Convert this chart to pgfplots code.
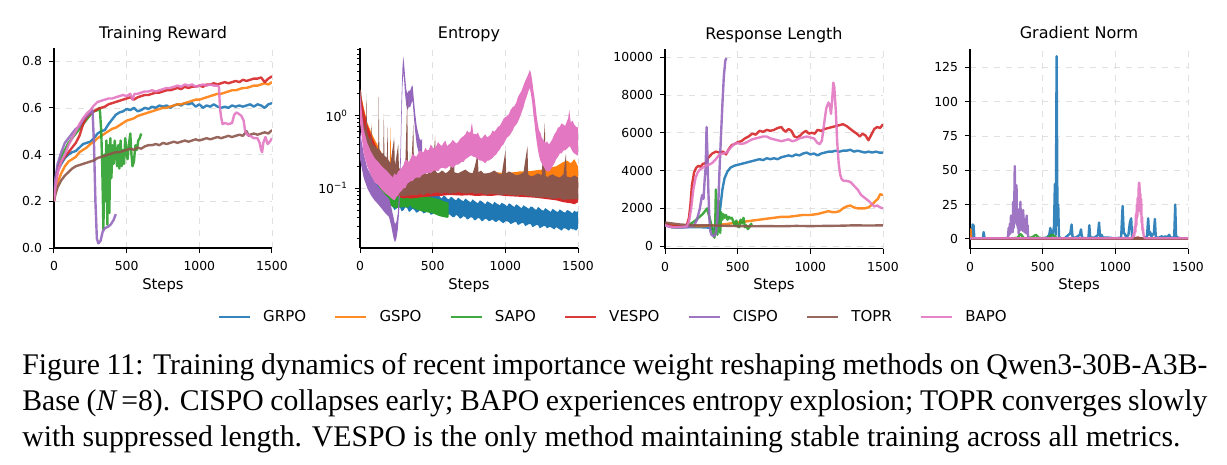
\documentclass[border=0pt]{standalone}
\usepackage{pgfplots}
\pgfplotsset{compat=1.18}
\usepgfplotslibrary{fillbetween}
\usepackage{pgfplotstable}
\usepackage{fontspec}
\setmainfont{DejaVu Sans}
\newfontfamily\capfont[FakeStretch=0.99]{Liberation Serif}

\definecolor{cGRPO}{HTML}{1F77B4}
\definecolor{cGSPO}{HTML}{FF7F0E}
\definecolor{cSAPO}{HTML}{2CA02C}
\definecolor{cVESPO}{HTML}{D62728}
\definecolor{cCISPO}{HTML}{9467BD}
\definecolor{cTOPR}{HTML}{8C564B}
\definecolor{cBAPO}{HTML}{E377C2}

% entropy: upper and lower edge of each (noisy) curve
\pgfplotstableread{
step hi lo
0 2.0 1.1
25 0.8 0.4
50 0.4 0.22
75 0.27 0.15
100 0.19 0.105
125 0.15 0.085
150 0.12 0.07
175 0.105 0.062
200 0.095 0.057
212 0.083 0.058
225 0.092 0.055
237 0.094 0.050
250 0.085 0.052
262 0.080 0.056
275 0.095 0.054
287 0.090 0.048
300 0.088 0.050
312 0.082 0.055
325 0.084 0.053
337 0.079 0.047
350 0.090 0.049
362 0.088 0.052
375 0.083 0.050
387 0.080 0.046
400 0.087 0.047
412 0.085 0.050
425 0.080 0.048
437 0.077 0.045
450 0.084 0.046
462 0.081 0.049
475 0.078 0.047
487 0.086 0.043
500 0.082 0.044
512 0.077 0.047
525 0.090 0.045
537 0.083 0.042
550 0.076 0.043
562 0.072 0.046
575 0.079 0.044
587 0.077 0.041
600 0.072 0.041
612 0.070 0.044
625 0.076 0.042
637 0.074 0.040
650 0.070 0.040
662 0.068 0.043
675 0.074 0.041
687 0.071 0.038
700 0.068 0.039
712 0.066 0.041
725 0.072 0.040
737 0.069 0.037
750 0.066 0.038
762 0.064 0.040
775 0.070 0.039
787 0.067 0.036
800 0.064 0.037
812 0.062 0.039
825 0.068 0.038
837 0.066 0.035
850 0.063 0.036
862 0.060 0.038
875 0.066 0.037
887 0.064 0.035
900 0.062 0.036
912 0.059 0.037
925 0.065 0.035
937 0.062 0.034
950 0.060 0.036
962 0.058 0.036
975 0.063 0.034
987 0.061 0.033
1000 0.059 0.035
1012 0.056 0.035
1025 0.062 0.034
1037 0.060 0.032
1050 0.057 0.033
1062 0.055 0.034
1075 0.060 0.034
1087 0.058 0.031
1100 0.055 0.032
1112 0.053 0.033
1125 0.058 0.033
1137 0.056 0.030
1150 0.054 0.031
1162 0.052 0.032
1175 0.056 0.032
1187 0.055 0.029
1200 0.052 0.030
1212 0.050 0.031
1225 0.055 0.031
1237 0.053 0.028
1250 0.050 0.029
1262 0.049 0.030
1275 0.053 0.030
1287 0.051 0.028
1300 0.049 0.029
1312 0.047 0.029
1325 0.052 0.028
1337 0.050 0.027
1350 0.048 0.029
1362 0.047 0.028
1375 0.051 0.027
1387 0.049 0.026
1400 0.047 0.028
1412 0.046 0.028
1425 0.050 0.027
1437 0.049 0.026
1450 0.047 0.028
1462 0.045 0.027
1475 0.049 0.027
1487 0.047 0.026
1500 0.048 0.028
}\entGRPO

\pgfplotstableread{
step hi lo
0 2.3 1.6
25 1.3 0.75
50 0.8 0.45
75 0.6 0.33
100 0.47 0.26
125 0.38 0.21
150 0.3 0.17
175 0.25 0.14
200 0.2 0.115
205 0.2 0.11
210 0.69 0.11
215 0.19 0.105
225 0.17 0.1
250 0.16 0.09
275 0.15 0.085
300 0.14 0.08
325 0.135 0.078
350 0.14 0.075
375 0.135 0.077
400 0.14 0.075
425 0.135 0.078
450 0.14 0.076
475 0.14 0.078
500 0.145 0.08
550 0.15 0.08
600 0.15 0.082
650 0.155 0.08
700 0.15 0.083
750 0.155 0.082
800 0.16 0.085
850 0.155 0.083
900 0.16 0.085
950 0.165 0.084
1000 0.16 0.086
1050 0.165 0.085
1100 0.17 0.088
1150 0.17 0.087
1200 0.175 0.09
1250 0.18 0.09
1300 0.19 0.095
1350 0.2 0.1
1400 0.23 0.105
1425 0.24 0.11
1450 0.22 0.11
1475 0.25 0.105
1500 0.2 0.1
}\entGSPO

\pgfplotstableread{
step hi lo
0 2.0 1.2
25 0.8 0.45
50 0.45 0.27
75 0.32 0.19
100 0.24 0.14
125 0.18 0.11
150 0.14 0.085
175 0.11 0.07
200 0.09 0.06
225 0.085 0.055
250 0.084 0.053
275 0.088 0.054
300 0.09 0.055
325 0.088 0.054
338 0.09 0.055
344 0.31 0.06
350 0.09 0.055
375 0.085 0.052
400 0.082 0.05
425 0.08 0.048
450 0.078 0.047
475 0.076 0.046
500 0.074 0.045
525 0.072 0.043
550 0.07 0.041
575 0.066 0.04
600 0.064 0.039
610 0.063 0.04
}\entSAPO

\pgfplotstableread{
step hi lo
0 2.3 1.5
25 1.2 0.7
50 0.75 0.42
75 0.55 0.3
100 0.42 0.23
125 0.33 0.18
150 0.26 0.14
175 0.21 0.115
200 0.17 0.095
225 0.15 0.085
250 0.135 0.08
275 0.13 0.075
300 0.125 0.072
325 0.125 0.074
350 0.12 0.072
375 0.12 0.073
400 0.125 0.074
450 0.13 0.076
500 0.135 0.077
550 0.14 0.078
600 0.14 0.08
650 0.145 0.08
700 0.14 0.079
750 0.145 0.08
800 0.14 0.078
850 0.145 0.079
900 0.14 0.078
950 0.145 0.08
1000 0.14 0.078
1050 0.14 0.077
1100 0.135 0.076
1150 0.14 0.075
1200 0.135 0.074
1250 0.13 0.072
1300 0.13 0.07
1350 0.125 0.068
1400 0.12 0.064
1450 0.12 0.062
1475 0.115 0.06
1500 0.12 0.064
}\entVESPO

\pgfplotstableread{
step hi lo
0 0.6 0.25
25 0.3 0.14
50 0.19 0.1
75 0.15 0.08
100 0.12 0.068
125 0.105 0.06
150 0.092 0.052
175 0.08 0.045
200 0.072 0.04
215 0.055 0.03
230 0.04 0.021
240 0.032 0.018
250 0.034 0.02
260 0.045 0.027
270 0.1 0.05
278 0.3 0.12
285 1.5 0.7
292 4.5 2.5
298 6.5 4.0
304 5.0 3.0
310 3.5 2.0
318 2.3 1.4
326 2.0 1.2
335 2.2 1.3
345 2.2 1.3
355 2.5 1.5
362 2.6 1.6
370 1.7 1.0
380 1.05 0.6
390 0.72 0.4
400 0.58 0.33
410 0.48 0.28
420 0.45 0.26
428 0.48 0.3
}\entCISPO

\pgfplotstableread{
step hi lo
0 2.2 1.2
9 2.1 0.9
12 1.2 0.7
25 0.8 0.35
40 0.6 0.28
44 2.0 0.28
48 0.6 0.27
60 0.5 0.24
75 0.45 0.2
78 0.8 0.2
82 0.42 0.2
100 0.38 0.17
115 0.36 0.16
125 0.34 0.15
129 1.8 0.15
133 0.34 0.15
150 0.3 0.13
160 0.3 0.12
164 1.05 0.12
168 0.28 0.115
185 0.26 0.1
189 0.7 0.1
193 0.25 0.1
210 0.22 0.09
235 0.5 0.085
240 0.2 0.083
263 0.4 0.08
268 0.19 0.08
290 0.17 0.078
310 0.16 0.077
325 1.7 0.08
330 0.16 0.078
350 0.15 0.08
367 0.77 0.08
372 0.15 0.08
400 0.15 0.08
412 0.14 0.085
425 0.16 0.082
437 0.17 0.079
450 0.16 0.083
462 0.155 0.086
475 0.165 0.085
487 0.175 0.082
500 0.17 0.085
517 0.53 0.087
522 0.17 0.086
535 0.16 0.088
550 0.165 0.085
562 0.175 0.083
575 0.17 0.086
587 0.16 0.087
600 0.165 0.085
620 0.18 0.084
644 0.41 0.086
650 0.165 0.085
675 0.16 0.088
700 0.17 0.086
725 0.18 0.084
750 0.165 0.085
775 0.16 0.087
790 0.2 0.083
810 0.3 0.085
815 0.165 0.084
832 0.175 0.085
850 0.16 0.083
875 0.16 0.081
900 0.165 0.084
925 0.175 0.083
950 0.16 0.082
975 0.155 0.08
1001 0.33 0.082
1006 0.16 0.082
1025 0.17 0.081
1050 0.16 0.08
1075 0.15 0.079
1100 0.155 0.08
1125 0.165 0.08
1152 0.38 0.078
1157 0.155 0.078
1175 0.145 0.077
1200 0.15 0.076
1225 0.16 0.074
1250 0.15 0.075
1272 0.8 0.074
1277 0.15 0.074
1290 0.14 0.075
1300 0.148 0.073
1325 0.155 0.071
1350 0.145 0.072
1375 0.14 0.073
1400 0.155 0.069
1417 0.3 0.07
1422 0.145 0.07
1450 0.14 0.07
1475 0.15 0.071
1500 0.14 0.07
}\entTOPR

\pgfplotstableread{
step hi lo
0 2.2 0.8
15 1.0 0.45
25 0.65 0.3
50 0.42 0.2
75 0.32 0.15
100 0.26 0.12
125 0.23 0.11
150 0.2 0.095
175 0.18 0.085
200 0.16 0.078
225 0.14 0.07
237 0.16 0.068
250 0.15 0.075
262 0.17 0.08
275 0.18 0.088
287 0.19 0.092
300 0.21 0.1
312 0.25 0.1
325 0.24 0.115
337 0.23 0.12
350 0.26 0.125
362 0.3 0.125
375 0.28 0.135
387 0.27 0.14
400 0.3 0.14
412 0.33 0.14
425 0.32 0.15
437 0.31 0.155
450 0.36 0.16
462 0.33 0.16
475 0.34 0.165
487 0.40 0.16
500 0.36 0.17
512 0.35 0.175
525 0.38 0.175
537 0.43 0.17
550 0.4 0.185
562 0.38 0.19
575 0.42 0.19
587 0.45 0.185
600 0.38 0.19
612 0.40 0.2
625 0.42 0.2
637 0.46 0.19
650 0.44 0.2
662 0.41 0.21
675 0.43 0.21
687 0.47 0.22
700 0.5 0.23
712 0.52 0.23
725 0.55 0.25
737 0.62 0.26
750 0.58 0.27
760 0.6 0.28
770 0.8 0.28
780 0.55 0.27
790 0.56 0.27
800 0.55 0.26
812 0.58 0.25
825 0.5 0.24
837 0.48 0.24
850 0.52 0.23
862 0.55 0.22
875 0.5 0.24
887 0.52 0.24
900 0.55 0.25
912 0.62 0.26
925 0.6 0.28
937 0.64 0.29
950 0.7 0.32
962 0.72 0.34
975 0.8 0.38
987 0.9 0.4
1000 0.95 0.45
1012 0.98 0.5
1025 1.05 0.52
1037 1.2 0.56
1050 1.3 0.62
1062 1.35 0.7
1075 1.5 0.75
1087 1.8 0.82
1100 2.0 0.95
1112 2.2 1.1
1125 2.6 1.3
1137 3.0 1.6
1150 3.4 1.9
1160 3.8 2.2
1168 4.2 2.4
1176 3.9 2.0
1185 3.0 1.5
1192 2.3 1.1
1200 1.8 0.8
1207 1.4 0.6
1215 1.0 0.45
1224 0.75 0.34
1232 0.62 0.28
1241 0.58 0.24
1250 0.5 0.22
1262 0.46 0.2
1275 0.42 0.18
1287 0.44 0.17
1300 0.4 0.17
1312 0.43 0.18
1325 0.48 0.2
1337 0.55 0.22
1350 0.6 0.25
1362 0.68 0.27
1375 0.7 0.3
1387 0.78 0.3
1400 0.75 0.33
1412 0.72 0.33
1425 0.85 0.35
1432 0.9 0.36
1440 1.2 0.38
1450 0.8 0.36
1462 0.85 0.32
1475 0.75 0.3
1487 0.7 0.29
1500 0.68 0.28
}\entBAPO

\pgfplotsset{
  panel/.style={
    width=109pt, height=100pt, scale only axis,
    axis x line*=bottom, axis y line*=left,
    axis line style={line width=0.6pt, -},
    xmin=0, xmax=1500, xtick={0,500,1000,1500},
    tick align=outside, major tick length=2.5pt, minor tick length=1.4pt,
    every tick/.style={black, line width=0.5pt},
    grid=major, major grid style={dashed, line width=0.3pt, black!12},
    ticklabel style={font=\fontsize{6.2}{7}\selectfont},
    /pgf/number format/assume math mode=true,
    /pgf/number format/1000 sep={},
    every axis title shift=0pt,
    title style={font=\fontsize{8}{9}\selectfont, at={(0.5,1)}, anchor=base, yshift=4.8pt},
    xlabel=Steps,
    xlabel style={font=\fontsize{7.4}{8}\selectfont, at={(0.5,0)}, anchor=base, yshift=-20.5pt},
    xticklabel style={yshift=-0.6pt},
    every axis plot/.append style={line width=1.2pt, opacity=0.9, line join=round},
    clip=true,
  },
  band/.style={draw=none, fill=#1, fill opacity=0.85, opacity=1},
}

\begin{document}
\begin{tikzpicture}

% ---------------- Training Reward ----------------
\begin{axis}[panel, at={(27pt,-124pt)}, anchor=south west,
  title={Training Reward},
  ymin=0, ymax=0.856, ytick={0,0.2,0.4,0.6,0.8},
  yticklabel style={/pgf/number format/.cd, fixed, fixed zerofill, precision=1},
  legend columns=7,
  legend style={at={(2.57,-0.345)}, anchor=center, draw=none, fill=none,
    font=\fontsize{7.5}{9}\selectfont,
    /tikz/every odd column/.append style={column sep=4pt},
    /tikz/every even column/.append style={column sep=12pt}},
  legend image code/.code={\draw[#1] (0pt,0pt) -- (15.5pt,0pt);},
]
\addplot[cGRPO] coordinates {(0,0.22)(10,0.28)(25,0.33)(50,0.36)(75,0.385)(100,0.40)(125,0.41)(150,0.415)(175,0.43)(200,0.445)(225,0.45)(250,0.455)(275,0.47)(300,0.49)(325,0.50)(350,0.505)(375,0.53)(400,0.55)(425,0.57)(450,0.58)(475,0.585)(500,0.595)(525,0.59)(550,0.60)(575,0.585)(600,0.59)(625,0.60)(650,0.595)(675,0.605)(700,0.60)(725,0.61)(750,0.605)(775,0.61)(800,0.60)(825,0.61)(850,0.615)(875,0.61)(900,0.62)(925,0.615)(950,0.62)(975,0.605)(1000,0.615)(1025,0.60)(1050,0.61)(1075,0.605)(1100,0.615)(1125,0.605)(1150,0.60)(1175,0.605)(1200,0.60)(1225,0.61)(1250,0.605)(1275,0.61)(1300,0.605)(1325,0.61)(1350,0.615)(1375,0.605)(1400,0.615)(1425,0.61)(1450,0.60)(1475,0.615)(1500,0.62)};
\addplot[cGSPO] coordinates {(0,0.20)(10,0.24)(25,0.28)(50,0.32)(75,0.35)(100,0.37)(125,0.38)(150,0.39)(175,0.41)(200,0.42)(225,0.43)(250,0.445)(275,0.455)(300,0.47)(325,0.48)(350,0.49)(375,0.50)(400,0.51)(425,0.515)(450,0.525)(475,0.535)(500,0.545)(525,0.55)(550,0.555)(575,0.565)(600,0.57)(625,0.575)(650,0.58)(675,0.585)(700,0.59)(725,0.595)(750,0.60)(775,0.60)(800,0.605)(825,0.61)(850,0.615)(875,0.615)(900,0.62)(925,0.625)(950,0.63)(975,0.635)(1000,0.635)(1025,0.64)(1050,0.645)(1075,0.65)(1100,0.655)(1125,0.66)(1150,0.66)(1175,0.665)(1200,0.67)(1225,0.675)(1250,0.675)(1275,0.68)(1300,0.685)(1325,0.685)(1350,0.69)(1375,0.695)(1400,0.695)(1425,0.70)(1450,0.705)(1475,0.70)(1500,0.71)};
\addplot[cSAPO] coordinates {(0,0.21)(10,0.28)(25,0.34)(50,0.39)(75,0.42)(100,0.45)(125,0.47)(150,0.49)(175,0.51)(200,0.53)(225,0.55)(250,0.57)(275,0.585)(300,0.59)(315,0.60)(325,0.50)(332,0.35)(340,0.08)(347,0.40)(353,0.20)(360,0.46)(367,0.10)(374,0.44)(381,0.15)(388,0.47)(395,0.30)(402,0.44)(410,0.36)(418,0.46)(426,0.40)(434,0.35)(442,0.44)(450,0.34)(458,0.46)(466,0.35)(474,0.42)(482,0.36)(490,0.47)(498,0.42)(506,0.38)(515,0.44)(525,0.49)(533,0.40)(540,0.35)(550,0.37)(560,0.44)(570,0.42)(580,0.46)(590,0.47)(600,0.49)};
\addplot[cVESPO] coordinates {(0,0.21)(10,0.27)(25,0.33)(50,0.37)(75,0.39)(100,0.41)(125,0.43)(150,0.45)(175,0.48)(200,0.53)(225,0.56)(250,0.575)(275,0.585)(300,0.595)(325,0.60)(350,0.605)(375,0.615)(400,0.62)(425,0.625)(450,0.63)(475,0.635)(500,0.64)(525,0.645)(550,0.635)(575,0.645)(600,0.65)(625,0.655)(650,0.655)(675,0.66)(700,0.665)(725,0.665)(750,0.67)(775,0.675)(800,0.675)(825,0.68)(850,0.685)(875,0.68)(900,0.69)(925,0.685)(950,0.69)(975,0.69)(1000,0.695)(1025,0.69)(1050,0.70)(1075,0.70)(1100,0.705)(1125,0.70)(1150,0.705)(1175,0.71)(1200,0.705)(1225,0.71)(1250,0.715)(1275,0.71)(1300,0.72)(1325,0.715)(1350,0.72)(1375,0.725)(1400,0.725)(1425,0.73)(1450,0.71)(1475,0.725)(1500,0.735)};
\addplot[cCISPO] coordinates {(0,0.22)(10,0.30)(25,0.36)(50,0.41)(75,0.45)(100,0.47)(125,0.49)(150,0.51)(175,0.52)(200,0.55)(225,0.565)(250,0.58)(265,0.59)(275,0.45)(285,0.20)(295,0.04)(305,0.02)(320,0.03)(335,0.07)(350,0.085)(370,0.09)(390,0.10)(410,0.12)(425,0.145)};
\addplot[cTOPR] coordinates {(0,0.20)(10,0.23)(25,0.26)(50,0.29)(75,0.31)(100,0.325)(125,0.34)(150,0.35)(175,0.355)(200,0.36)(225,0.365)(250,0.37)(275,0.375)(300,0.385)(325,0.39)(350,0.395)(375,0.40)(400,0.405)(425,0.41)(450,0.41)(475,0.415)(500,0.42)(525,0.425)(550,0.42)(575,0.43)(600,0.425)(625,0.435)(650,0.44)(675,0.44)(700,0.445)(725,0.44)(750,0.45)(775,0.445)(800,0.45)(825,0.455)(850,0.45)(875,0.455)(900,0.46)(925,0.455)(950,0.46)(975,0.465)(1000,0.46)(1025,0.465)(1050,0.47)(1075,0.465)(1100,0.47)(1125,0.475)(1150,0.47)(1175,0.475)(1200,0.48)(1225,0.475)(1250,0.48)(1275,0.485)(1300,0.48)(1325,0.50)(1340,0.48)(1350,0.485)(1375,0.49)(1400,0.485)(1425,0.49)(1450,0.495)(1475,0.49)(1500,0.505)};
\addplot[cBAPO] coordinates {(0,0.20)(10,0.26)(25,0.32)(50,0.37)(75,0.40)(100,0.44)(125,0.47)(150,0.50)(175,0.53)(200,0.555)(225,0.575)(250,0.59)(275,0.61)(300,0.625)(325,0.63)(350,0.635)(375,0.64)(400,0.64)(425,0.645)(450,0.65)(475,0.655)(500,0.65)(525,0.66)(540,0.635)(555,0.66)(575,0.66)(600,0.665)(625,0.67)(650,0.67)(675,0.675)(700,0.67)(725,0.675)(750,0.68)(775,0.685)(800,0.685)(825,0.69)(850,0.695)(875,0.69)(900,0.70)(925,0.695)(950,0.70)(975,0.69)(1000,0.695)(1025,0.70)(1050,0.695)(1075,0.70)(1100,0.695)(1125,0.695)(1135,0.69)(1142,0.60)(1150,0.56)(1160,0.53)(1175,0.535)(1200,0.53)(1225,0.535)(1240,0.57)(1255,0.58)(1270,0.575)(1290,0.565)(1305,0.545)(1315,0.50)(1330,0.485)(1350,0.48)(1375,0.47)(1400,0.47)(1415,0.45)(1425,0.42)(1432,0.41)(1440,0.45)(1455,0.475)(1470,0.445)(1485,0.455)(1500,0.47)};
\legend{GRPO,GSPO,SAPO,VESPO,CISPO,TOPR,BAPO}
\end{axis}

% ---------------- Entropy ----------------
\begin{axis}[panel, at={(180pt,-124pt)}, anchor=south west,
  title={Entropy}, ymode=log,
  ymin=0.015, ymax=8.5, ytick={0.1,1},
  yticklabels={10\textsuperscript{−1}, 10\textsuperscript{0}},
  minor ytick={0.02,0.03,0.04,0.05,0.06,0.07,0.08,0.09,0.2,0.3,0.4,0.5,0.6,0.7,0.8,0.9,2,3,4,5,6,7,8},
]
\addplot[draw=none, name path=gH] table[x=step, y=hi] {\entGRPO};
\addplot[draw=none, name path=gL] table[x=step, y=lo] {\entGRPO};
\addplot[band=cGRPO] fill between[of=gH and gL];
\addplot[draw=none, name path=sH] table[x=step, y=hi] {\entGSPO};
\addplot[draw=none, name path=sL] table[x=step, y=lo] {\entGSPO};
\addplot[band=cGSPO] fill between[of=sH and sL];
\addplot[draw=none, name path=aH] table[x=step, y=hi] {\entSAPO};
\addplot[draw=none, name path=aL] table[x=step, y=lo] {\entSAPO};
\addplot[band=cSAPO] fill between[of=aH and aL];
\addplot[draw=none, name path=vH] table[x=step, y=hi] {\entVESPO};
\addplot[draw=none, name path=vL] table[x=step, y=lo] {\entVESPO};
\addplot[band=cVESPO] fill between[of=vH and vL];
\addplot[draw=none, name path=cH] table[x=step, y=hi] {\entCISPO};
\addplot[draw=none, name path=cL] table[x=step, y=lo] {\entCISPO};
\addplot[band=cCISPO] fill between[of=cH and cL];
\addplot[draw=none, name path=tH] table[x=step, y=hi] {\entTOPR};
\addplot[draw=none, name path=tL] table[x=step, y=lo] {\entTOPR};
\addplot[band=cTOPR] fill between[of=tH and tL];
\addplot[draw=none, name path=bH] table[x=step, y=hi] {\entBAPO};
\addplot[draw=none, name path=bL] table[x=step, y=lo] {\entBAPO};
\addplot[band=cBAPO] fill between[of=bH and bL];
\end{axis}

% ---------------- Response Length ----------------
\begin{axis}[panel, at={(332.5pt,-124.3pt)}, anchor=south west,
  title={Response Length},
  ymin=-130, ymax=10450, ytick={0,2000,4000,6000,8000,10000},
  scaled y ticks=false,
]
\addplot[cGRPO] coordinates {(0,1100)(25,1050)(50,1000)(100,990)(150,1000)(200,1010)(250,1000)(300,980)(330,900)(350,1000)(365,1200)(380,2000)(395,3000)(410,3600)(430,3950)(450,4150)(475,4250)(500,4300)(525,4350)(550,4400)(575,4450)(600,4500)(625,4550)(650,4600)(675,4550)(700,4650)(725,4600)(750,4650)(775,4600)(800,4700)(825,4750)(850,4800)(875,4750)(900,4850)(925,4800)(950,4900)(975,4950)(1000,4850)(1025,4900)(1050,4800)(1075,4900)(1100,4950)(1125,5000)(1150,5000)(1175,5050)(1200,5000)(1225,5050)(1250,5050)(1275,5100)(1300,5000)(1325,5050)(1350,5000)(1375,4950)(1400,5000)(1425,4950)(1450,5000)(1475,4950)(1500,4950)};
\addplot[cGSPO] coordinates {(0,1200)(50,1100)(100,1050)(150,1050)(200,1050)(250,1050)(300,1080)(350,1100)(400,1150)(450,1200)(500,1250)(550,1300)(600,1350)(650,1400)(700,1450)(750,1500)(800,1550)(850,1550)(900,1600)(950,1650)(1000,1650)(1050,1700)(1100,1800)(1125,1850)(1150,1800)(1175,1800)(1200,1850)(1225,2000)(1250,2100)(1275,2150)(1300,2050)(1325,2000)(1350,2000)(1375,2000)(1400,2050)(1425,2200)(1450,2400)(1465,2500)(1480,2750)(1500,2700)};
\addplot[cSAPO] coordinates {(0,1200)(25,1100)(50,1000)(100,1000)(150,1050)(200,1300)(230,1500)(260,1700)(280,1900)(290,2000)(300,1700)(310,1400)(320,1100)(330,700)(340,450)(345,800)(350,3000)(355,1500)(360,600)(365,1800)(370,2400)(375,1300)(380,700)(385,1800)(390,1600)(395,1400)(400,1700)(410,1500)(420,1650)(430,1400)(440,1550)(450,1450)(460,1500)(470,1300)(480,1100)(490,1350)(500,1050)(510,1000)(520,1400)(530,1200)(540,1500)(550,1000)(560,1100)(570,900)(580,1000)(590,1150)(600,1200)};
\addplot[cVESPO] coordinates {(0,1200)(50,1050)(100,1050)(150,1100)(165,1500)(175,2200)(185,3200)(200,3900)(215,4150)(230,4250)(245,4200)(260,4350)(280,4400)(300,4700)(325,4900)(350,5000)(375,4950)(400,5000)(420,4850)(440,5150)(460,5350)(480,5400)(500,5500)(525,5550)(550,5700)(575,5800)(600,5950)(625,5900)(650,6100)(675,6050)(700,6150)(725,6100)(750,6150)(775,6250)(800,6300)(815,6150)(830,6050)(850,6200)(870,6100)(890,5800)(910,5750)(930,5850)(950,6000)(970,6100)(990,5950)(1010,6000)(1030,5950)(1050,6150)(1075,6100)(1100,6200)(1125,6250)(1150,6300)(1175,6350)(1200,6400)(1225,6450)(1250,6350)(1275,6200)(1300,6050)(1320,5950)(1340,5800)(1360,5950)(1380,5850)(1400,5600)(1420,5900)(1440,6200)(1460,6300)(1480,6250)(1500,6450)};
\addplot[cCISPO] coordinates {(0,1100)(50,1000)(100,1000)(150,1000)(200,1100)(220,1400)(240,2000)(255,2700)(265,2500)(272,3400)(280,4200)(286,6300)(292,4800)(298,3000)(305,1500)(312,800)(320,600)(330,550)(340,520)(350,700)(360,1400)(368,2500)(375,4000)(385,5800)(395,7500)(405,9000)(415,9800)(422,9950)};
\addplot[cTOPR] coordinates {(0,1250)(50,1200)(100,1150)(150,1120)(200,1100)(300,1100)(400,1080)(500,1060)(600,1050)(700,1060)(800,1050)(900,1070)(1000,1060)(1100,1070)(1200,1080)(1300,1100)(1400,1090)(1500,1100)};
\addplot[cBAPO] coordinates {(0,1100)(50,1000)(100,1000)(150,1050)(165,1300)(180,2000)(195,3000)(210,3600)(225,3900)(240,4050)(260,4150)(280,4250)(300,4300)(325,4400)(350,4600)(375,4850)(400,4900)(425,4950)(450,5200)(475,5400)(500,5450)(525,5400)(550,5450)(575,5550)(600,5650)(625,5700)(650,5750)(675,5800)(700,5800)(725,5700)(750,5650)(775,5600)(800,5550)(825,5600)(850,5650)(875,5550)(900,5600)(925,5700)(950,5750)(975,5800)(1000,5750)(1025,5700)(1050,5450)(1065,5400)(1080,5600)(1095,6500)(1110,7300)(1125,7600)(1135,7400)(1142,7000)(1150,7700)(1158,8650)(1165,8400)(1175,7200)(1185,5500)(1195,4400)(1205,3800)(1215,3550)(1230,3450)(1250,3450)(1275,3400)(1300,3200)(1325,3000)(1350,2700)(1375,2550)(1400,2400)(1420,2250)(1440,2100)(1460,2150)(1480,2050)(1500,2000)};
\end{axis}

% ---------------- Gradient Norm ----------------
\begin{axis}[panel, at={(485pt,-124.3pt)}, anchor=south west,
  title={Gradient Norm},
  ymin=-7, ymax=138.5, ytick={0,25,50,75,100,125},
]
\addplot[cGRPO] coordinates {(0,0.5)(12,1)(18,10.5)(24,10)(30,0.5)(60,0.5)(88,0.5)(94,5)(100,0.5)(150,0.3)(200,0.3)(300,0.3)(400,0.3)(500,0.5)(530,1)(545,3)(553,8)(560,2)(570,4)(578,9)(584,40)(590,3)(596,133)(602,10)(607,25)(612,2)(620,0.5)(650,0.5)(690,4)(699,10.5)(705,2)(720,0.5)(755,3)(764,7)(770,1)(800,0.5)(815,1)(821,10)(827,1)(860,1)(880,3)(888,12)(895,1)(905,3)(915,1)(950,1)(1000,0.5)(1040,1)(1050,24)(1058,4)(1065,4)(1075,1)(1090,3)(1100,12)(1109,15)(1115,1)(1150,0.5)(1200,0.5)(1218,2)(1226,15)(1232,3)(1240,5)(1248,2)(1265,4)(1272,14.6)(1278,2)(1290,0.5)(1320,2)(1330,1)(1345,2)(1355,1)(1370,3)(1380,1)(1405,1)(1412,25)(1418,2)(1430,1)(1450,0.5)(1500,0.5)};
\addplot[cGSPO] coordinates {(0,7)(4,7)(8,0.5)(200,0.3)(600,0.3)(1000,0.3)(1500,0.3)};
\addplot[cSAPO] coordinates {(0,0.5)(300,0.5)(330,1)(340,3)(350,3.5)(360,2)(370,0.5)(420,1)(440,2)(450,3)(460,2.5)(470,1)(500,0.5)(540,1)(555,2.5)(570,3)(580,2)(600,0.5)};
\addplot[cVESPO] coordinates {(0,0.3)(500,0.3)(1000,0.3)(1140,0.3)(1155,1.2)(1170,0.3)(1500,0.3)};
\addplot[cCISPO] coordinates {(0,0.5)(200,0.5)(250,0.5)(258,1)(262,2)(266,8)(270,3)(274,11)(278,4)(282,17)(286,6)(290,13)(294,5)(297,27)(300,8)(304,20)(308,53)(311,12)(314,39)(317,15)(320,39)(323,10)(326,22)(329,8)(332,17)(335,4)(338,12)(341,6)(344,18)(347,27)(350,9)(353,21)(356,7)(359,18)(362,6)(366,21)(369,9)(372,15)(375,5)(378,12)(381,6)(384,14)(387,4)(390,17)(393,7)(396,10)(399,3)(402,1)(410,0.5)(425,0.5)};
\addplot[cTOPR] coordinates {(0,0.3)(500,0.3)(1000,0.3)(1500,0.3)};
\addplot[cBAPO] coordinates {(0,0.5)(1100,0.5)(1120,1)(1126,4)(1130,2)(1134,9)(1138,5)(1142,18)(1145,10)(1148,25)(1151,16)(1154,30)(1157,20)(1160,36)(1163,41)(1166,40)(1169,26)(1172,33)(1175,18)(1178,29)(1181,12)(1184,16)(1187,6)(1190,8)(1194,3)(1200,1)(1210,0.5)(1500,0.5)};
\end{axis}

% ---------------- caption ----------------
\begin{scope}[every node/.style={anchor=base west, inner sep=0pt,
    font=\capfont\fontsize{15}{18}\selectfont}]
\node at (11pt,-187pt) {\makebox[592.5pt][s]{Figure 11: Training dynamics of recent importance weight reshaping methods on Qwen3-30B-A3B-}};
\node at (11pt,-205pt) {\makebox[592.5pt][s]{Base ({\itshape N}\,=8). CISPO collapses early; BAPO experiences entropy explosion; TOPR converges slowly}};
\node at (11pt,-223pt) {with suppressed length. VESPO is the only method maintaining stable training across all metrics.};
\end{scope}

% fixed page frame
\pgfresetboundingbox
\useasboundingbox (0,0) rectangle (613.5pt,-232.5pt);
\end{tikzpicture}
\end{document}
